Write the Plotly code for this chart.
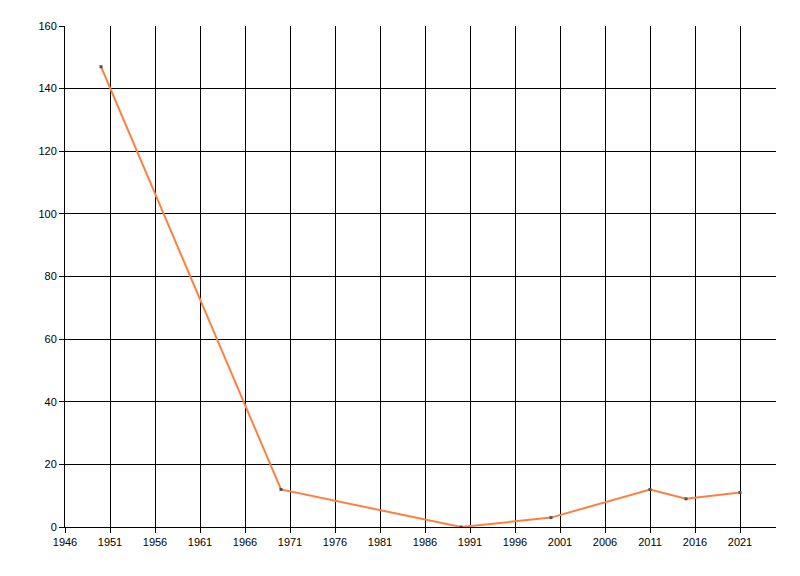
import plotly.graph_objects as go

years = [1950, 1970, 1990, 2000, 2011, 2015, 2021]
values = [147, 12, 0, 3, 12, 9, 11]

fig = go.Figure()
fig.add_trace(go.Scatter(
    x=years, y=values, mode="lines+markers",
    line=dict(color="#FF7F40", width=2),
    marker=dict(color="#505050", size=3, symbol="square"),
    showlegend=False, hoverinfo="x+y",
))

axis_common = dict(
    showgrid=True, gridcolor="black", gridwidth=1,
    showline=True, linecolor="black", linewidth=1,
    ticks="outside", ticklen=5, tickcolor="black", tickwidth=1,
    zeroline=False,
    tickfont=dict(family="Liberation Sans", size=11, color="black"),
)

fig.update_xaxes(range=[1946, 2025], tick0=1946, dtick=5, tickmode="linear", **axis_common)
fig.update_yaxes(range=[0, 160], tick0=0, dtick=20, tickmode="linear", **axis_common)

fig.update_layout(
    width=800, height=576,
    margin=dict(l=57, r=32, t=18, b=57),
    paper_bgcolor="white", plot_bgcolor="white",
    font=dict(family="Liberation Sans", size=11, color="black"),
)

fig.write_html("out.html")
